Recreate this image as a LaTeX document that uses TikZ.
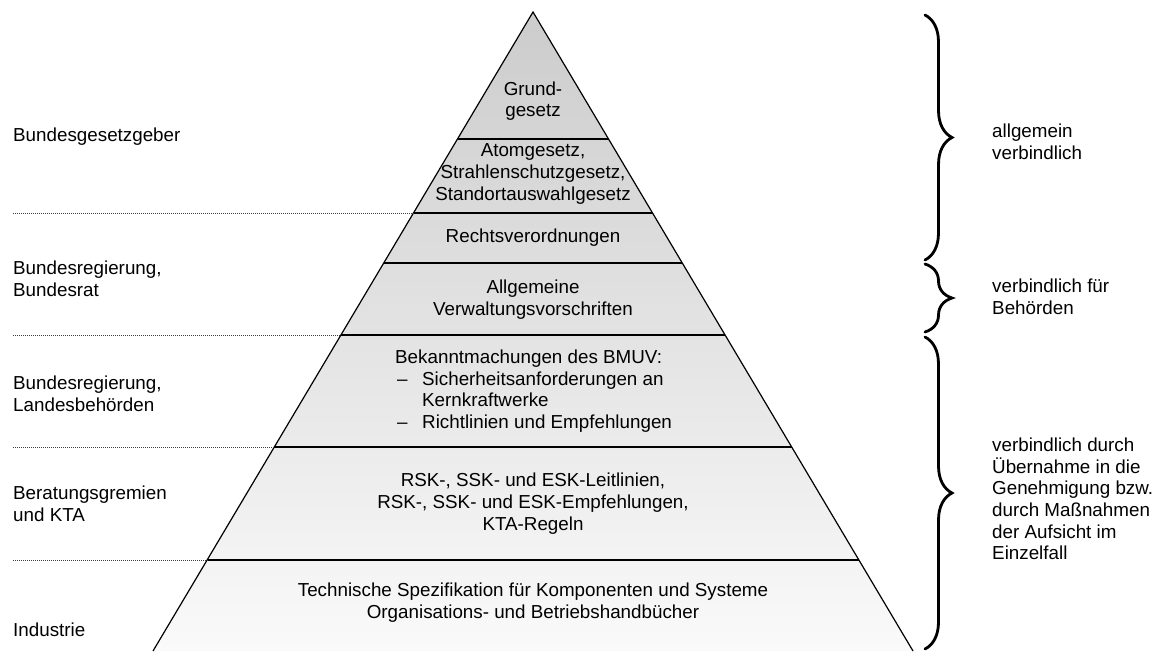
\documentclass[tikz,border=0pt]{standalone}
\usepackage{fontspec}
\setmainfont{Liberation Sans}
\usetikzlibrary{decorations.pathreplacing,calc}
\definecolor{pyrtop}{RGB}{204,204,204}
\definecolor{pyrbot}{RGB}{250,250,250}
\definecolor{sepgray}{RGB}{60,60,60}
\begin{document}
\begin{tikzpicture}[x=1pt,y=-1pt,
  txt/.style={font=\fontsize{18.8}{21.7}\selectfont, inner sep=0pt, text=black},
  lbl/.style={txt, align=left, anchor=west},
  ctr/.style={txt, align=center},
  layerline/.style={line width=1.7pt},
  pyredge/.style={line width=1.2pt},
  sepline/.style={densely dotted, line width=1pt, sepgray},
  bracepath/.style={line width=2.8pt, line cap=round, decorate, decoration={brace, amplitude=27pt}}]
\useasboundingbox (0,0) rectangle (1164,651);

% pyramid corners
\coordinate (A) at (533,12);
\coordinate (BL) at (153,651);
\coordinate (BR) at (913,651);
% layer boundaries
\coordinate (L1) at (457.5,139); \coordinate (R1) at (608.5,139);
\coordinate (L2) at (413.5,213); \coordinate (R2) at (652.5,213);
\coordinate (L3) at (383.7,263); \coordinate (R3) at (682.3,263);
\coordinate (L4) at (340.9,335); \coordinate (R4) at (725.1,335);
\coordinate (L5) at (274.3,447); \coordinate (R5) at (791.7,447);
\coordinate (L6) at (207.1,560); \coordinate (R6) at (858.9,560);

\shade[top color=pyrtop, bottom color=pyrbot] (A) -- (BL) -- (BR) -- cycle;
\draw[pyredge] (BL) -- (A) -- (BR);
\foreach \i in {1,...,6} \draw[layerline] (L\i) -- (R\i);

% dotted separators on the left
\coordinate (S2) at (13,213);
\coordinate (S4) at (13,335);
\coordinate (S5) at (13,447);
\coordinate (S6) at (13,560);
\draw[sepline] (S2) -- (L2);
\draw[sepline] (S4) -- (L4);
\draw[sepline] (S5) -- (L5);
\draw[sepline] (S6) -- (L6);

% pyramid texts
\node[ctr] (t1) at (533,101) {Grund-\\gesetz};
\node[ctr] (t2) at (533,174) {Atomgesetz,\\Strahlenschutzgesetz,\\Standortauswahlgesetz};
\node[ctr] (t3) at (533,238) {Rechtsverordnungen};
\node[ctr] (t4) at (533,299.5) {Allgemeine\\Verwaltungsvorschriften};
\node[lbl] (t5) at (395,391) {Bekanntmachungen des BMUV:\\
  \makebox[27pt][l]{\hspace{2pt}–}Sicherheitsanforderungen an\\
  \hspace*{27pt}Kernkraftwerke\\
  \makebox[27pt][l]{\hspace{2pt}–}Richtlinien und Empfehlungen};
\node[ctr] (t6) at (533,503.5) {RSK-, SSK- und ESK-Leitlinien,\\RSK-, SSK- und ESK-Empfehlungen,\\KTA-Regeln};
\node[ctr] (t7) at (533,602.5) {Technische Spezifikation für Komponenten und Systeme\\Organisations- und Betriebshandbücher};

% left labels
\node[lbl] (a1) at (13,137) {Bundesgesetzgeber};
\node[lbl] (a2) at (13,279) {Bundesregierung,\\Bundesrat};
\node[lbl] (a3) at (13,394) {Bundesregierung,\\Landesbehörden};
\node[lbl] (a4) at (13,504) {Beratungsgremien\\und KTA};
\node[lbl] (a5) at (13,630) {Industrie};

% braces
\coordinate (B1t) at (925,15);  \coordinate (B1b) at (925,260);
\coordinate (B2t) at (925,264); \coordinate (B2b) at (925,332);
\coordinate (B3t) at (925,337); \coordinate (B3b) at (925,649);
\draw[bracepath] (B1t) -- (B1b);
\draw[bracepath] (B2t) -- (B2b);
\draw[bracepath] (B3t) -- (B3b);

% right labels
\node[lbl] (r1) at (992,142) {allgemein\\verbindlich};
\node[lbl] (r2) at (992,297) {verbindlich für\\Behörden};
\node[lbl] (r3) at (992,499) {verbindlich durch\\Übernahme in die\\Genehmigung bzw.\\durch Maßnahmen\\der Aufsicht im\\Einzelfall};
\end{tikzpicture}
\end{document}
